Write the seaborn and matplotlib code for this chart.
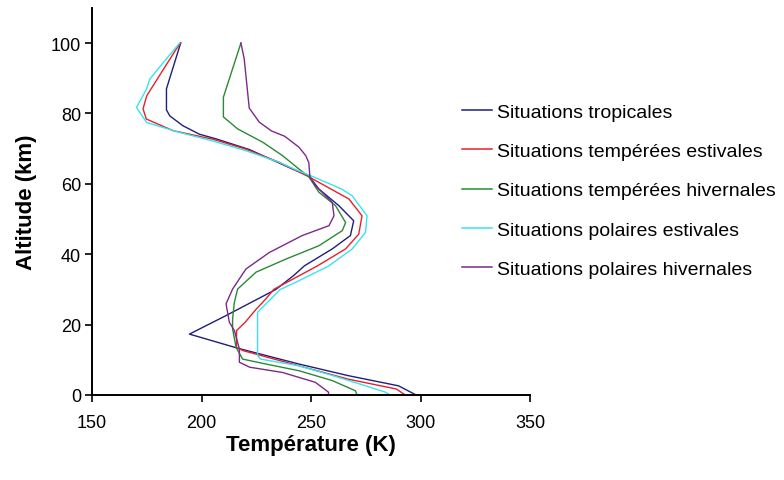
import matplotlib
matplotlib.use("Agg")
import matplotlib.pyplot as plt
import seaborn as sns
import pandas as pd
from matplotlib.lines import Line2D

# ---- data (altitude km, temperature K) ----
series_names = [
    "Situations tropicales",
    "Situations tempérées estivales",
    "Situations tempérées hivernales",
    "Situations polaires estivales",
    "Situations polaires hivernales",
]

alt_trop = [0, 2.6, 5.5, 8.8, 13.3, 17.3, 22.5, 30, 33.9, 36.7, 41.5, 45.3, 49.5, 53.8, 58.5,
            62.3, 64.2, 68, 69.7, 71.3, 72.7, 74.1, 76.5, 79.3, 81, 87, 100]
temp_trop = [298, 290, 267, 244.5, 216.5, 194.5, 211, 234, 242, 247, 259.7, 268, 269.5, 262.7, 253.6,
             249, 241.5, 228, 222, 214, 207, 199, 191.5, 185.5, 184, 184, 190.5]

alt_mls = [0, 1.7, 4.5, 8.3, 12.6, 13.5, 18.3, 20.7, 24.4, 27.3, 30, 36.7, 41.5, 45.7, 50.9, 55.7,
           60.4, 62, 66.1, 69.9, 72.7, 75.1, 78.4, 81.3, 85, 86.4, 98.3, 100]
temp_mls = [293, 289, 267, 244.5, 219, 216, 216, 220, 225, 229.4, 233, 253, 265.8, 271.8, 273.3, 267.3,
            253.6, 249, 235.5, 220, 205, 187, 174.8, 173.3, 175, 176.4, 188.5, 190.5]

alt_mlw = [0, 1.2, 4.1, 6.9, 8.8, 10.2, 13.5, 18.8, 21.6, 26.3, 30.1, 34.9, 38.6, 42.4, 46.7, 49,
           53.8, 57.6, 62, 64.2, 68, 71.8, 75.6, 79, 84.6, 100]
temp_mlw = [271, 270.3, 259.7, 244.5, 229.4, 218.8, 215.8, 214.2, 214.2, 215, 216.5, 224.9, 238.5,
            253.6, 264.3, 265.8, 261.2, 253.6, 249, 244.5, 237, 228, 216.5, 210, 210, 218]

alt_sas = [0, 0.8, 2.6, 5.5, 8.3, 10.2, 11.2, 23.5, 30, 32, 36.7, 41.5, 46.2, 50.9, 56.6, 58.5,
           62, 64, 66.1, 69.4, 72.2, 74.6, 77.4, 81.7, 86.9, 89.8, 100]
temp_sas = [286, 284, 275, 260, 244.5, 227, 225.6, 225.6, 236, 243, 258.2, 268.8, 274.9, 275.6,
            268.8, 264, 251, 243, 235.5, 220.3, 205, 190, 175, 170.3, 174.9, 176.4, 190]

alt_saw = [0, 0.8, 2.2, 3.6, 6.4, 7.9, 9.3, 13.1, 18.3, 20.7, 25.9, 30.1, 35.8, 40.5, 45.3, 48.1,
           50.9, 54.7, 59.5, 62, 66, 68, 70.4, 73.5, 75, 77.5, 81.5, 95.5, 100]
temp_saw = [258, 258, 255, 252, 237, 222, 217.3, 217.3, 215, 212.7, 211.2, 214.2, 220.3, 231, 246,
            258.2, 260.5, 259.7, 252, 249.5, 249, 247.6, 244.5, 238, 232, 226.4, 221.8, 219.5, 218]

x_ticks = [150, 200, 250, 300, 350]
y_ticks = [0, 20, 40, 60, 80, 100]

colors = ["#1e1e7e", "#e8202a", "#2a8a34", "#33e6ee", "#7d2a88"]

frames = []
for name, a, t in zip(series_names,
                      [alt_trop, alt_mls, alt_mlw, alt_sas, alt_saw],
                      [temp_trop, temp_mls, temp_mlw, temp_sas, temp_saw]):
    frames.append(pd.DataFrame({"Altitude": a, "Temperature": t, "serie": name}))
df = pd.concat(frames, ignore_index=True)

plt.rcParams["font.family"] = ["Liberation Sans", "DejaVu Sans"]

fig = plt.figure(figsize=(7.84, 4.81), dpi=100)
ax = fig.add_axes([92 / 784, 1 - 396 / 481, (530 - 92) / 784, (396 - 8.8) / 481])

sns.lineplot(data=df, x="Temperature", y="Altitude", hue="serie", hue_order=series_names,
             palette=colors, sort=False, estimator=None, units="serie", lw=1.0,
             legend=False, ax=ax)

ax.set_xlim(150, 350)
ax.set_ylim(0, 110)
ax.set_xticks(x_ticks)
ax.set_yticks(y_ticks)
ax.tick_params(axis="both", direction="out", length=5, width=1.2, labelsize=13, colors="black")
ax.tick_params(axis="x", pad=9)
ax.tick_params(axis="y", pad=3)
for s in ["top", "right"]:
    ax.spines[s].set_visible(False)
for s in ["left", "bottom"]:
    ax.spines[s].set_linewidth(1.4)
    ax.spines[s].set_color("black")

ax.set_xlabel("Température (K)", fontsize=16, fontweight="bold", labelpad=2)
ax.set_ylabel("Altitude (km)", fontsize=16, fontweight="bold", labelpad=10)

handles = [Line2D([0], [0], color=c, lw=1.1) for c in colors]
fig.legend(handles, series_names, loc="upper left", bbox_to_anchor=(462 / 784, 1 - 104 / 481),
           frameon=False, fontsize=14, handlelength=1.55, handletextpad=0.26,
           labelspacing=1.12, borderpad=0, borderaxespad=0)

fig.savefig("out.png", dpi=100)
